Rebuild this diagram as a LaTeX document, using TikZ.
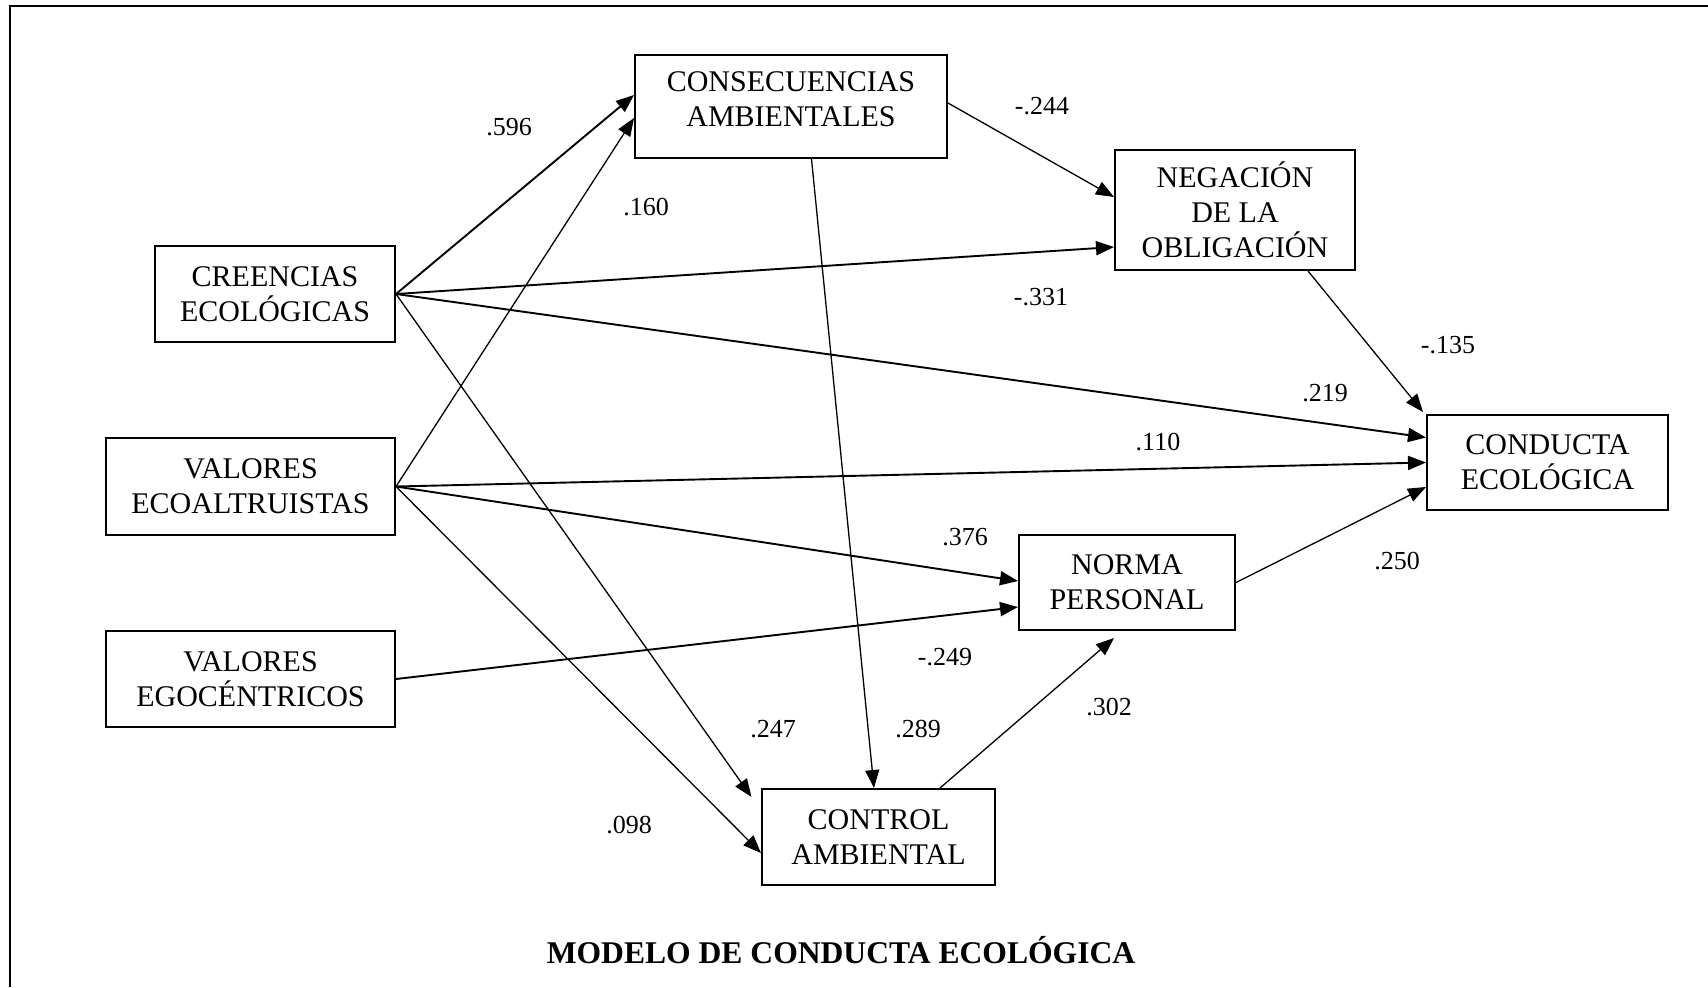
\documentclass[tikz,border=0pt]{standalone}
\usepackage{fontspec}
\setmainfont{Liberation Serif}
\usetikzlibrary{calc,arrows.meta}
\begin{document}
\begin{tikzpicture}[x=0.5pt,y=-0.5pt,
  box/.style 2 args={draw, line width=1pt, minimum width=#1*0.5pt, minimum height=#2*0.5pt,
    inner sep=0pt, align=center, font=\fontsize{15pt}{17.5pt}\selectfont},
  txt/.style={inner sep=0pt, align=center, font=\fontsize{15pt}{17.5pt}\selectfont},
  lab/.style={inner sep=0pt, font=\fontsize{13pt}{15pt}\selectfont},
  ttl/.style={inner sep=0pt, font=\fontsize{15.8pt}{18pt}\selectfont\bfseries},
  ar/.style={-{Triangle[length=9pt,width=7pt]}, line width=0.95pt},
  art/.style={-{Triangle[length=9pt,width=7pt]}, line width=0.65pt}
]
\useasboundingbox (0,0) rectangle (1708,987);
\fill[white] (0,0) rectangle (1708,987);
% frame
\coordinate (fbl) at (10,987);
\coordinate (ftl) at (10,6);
\coordinate (ftr) at (1708,6);
\draw[line width=1pt] (fbl) -- (ftl) -- (ftr);

% boxes
\node[box={312}{103}] (cons) at (791,106.5) {};
\node[txt] (cons-t) at (791,99) {CONSECUENCIAS\\AMBIENTALES};
\node[box={240}{120}] (neg) at (1235,210) {NEGACIÓN\\DE LA\\OBLIGACIÓN};
\node[box={240}{96}] (cre) at (275,294) {CREENCIAS\\ECOLÓGICAS};
\node[box={289}{97}] (vea) at (250.5,486.5) {VALORES\\ECOALTRUISTAS};
\node[box={289}{96}] (veg) at (250.5,679) {VALORES\\EGOCÉNTRICOS};
\node[box={233}{96}] (ctl) at (878.5,837) {CONTROL\\AMBIENTAL};
\node[box={216}{95}] (nor) at (1127,582.5) {NORMA\\PERSONAL};
\node[box={241}{95}] (cond) at (1547.5,462.5) {CONDUCTA\\ECOLÓGICA};

% connectors
\draw[ar]  (cre.east) -- ($(cons.west)+(0,-11.5)$);
\draw[art] (vea.east) -- ($(cons.west)+(0,11.5)$);
\draw[ar]  (cre.east) -- ($(neg.west)+(0,37)$);
\draw[ar]  (cre.east) -- ($(cond.west)+(0,-25)$);
\draw[art] (cre.east) -- ($(ctl.north west)+(-9.5,9)$);
\draw[ar]  (vea.east) -- (cond.west);
\draw[ar]  (vea.east) -- ($(nor.west)+(0,-1.5)$);
\draw[art] (vea.east) -- ($(ctl.west)+(0,16)$);
\draw[ar]  (veg.east) -- ($(nor.west)+(0,24.5)$);
\draw[art] ($(cons.east)+(0,-3.5)$) -- ($(neg.west)+(0,-13)$);
\draw[art] ($(cons.south)+(20.5,0)$) -- ($(ctl.north)+(-4.5,0)$);
\draw[art] ($(ctl.north)+(61.5,0)$) -- ($(nor.south)+(-13,7)$);
\draw[art] ($(neg.south)+(73,0)$) -- ($(cond.north west)+(-3,-2)$);
\draw[art] (nor.east) -- ($(cond.west)+(0,24.5)$);

% coefficients
\node[lab] (l596) at (509,127) {.596};
\node[lab] (l160) at (646,207) {.160};
\node[lab] (l244) at (1042,106) {-.244};
\node[lab] (l331) at (1041,297) {-.331};
\node[lab] (l135) at (1448,345) {-.135};
\node[lab] (l219) at (1325,393) {.219};
\node[lab] (l110) at (1158,442) {.110};
\node[lab] (l376) at (965,537) {.376};
\node[lab] (l250) at (1397,561) {.250};
\node[lab] (l249) at (945,657) {-.249};
\node[lab] (l302) at (1109,707) {.302};
\node[lab] (l289) at (918,729) {.289};
\node[lab] (l247) at (773,729) {.247};
\node[lab] (l098) at (629,825) {.098};

% title
\node[ttl] (title) at (841,950) {MODELO DE CONDUCTA ECOLÓGICA};
\end{tikzpicture}
\end{document}
